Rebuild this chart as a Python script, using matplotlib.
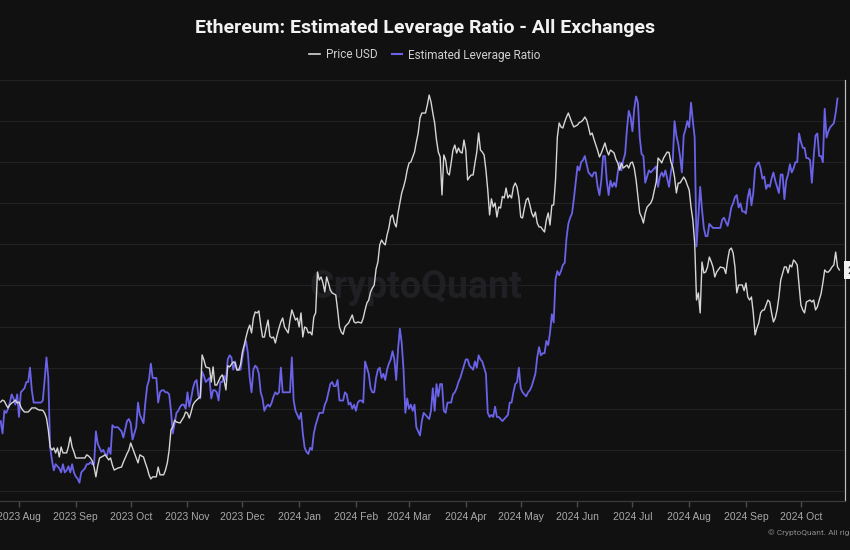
import numpy as np
import pandas as pd
import matplotlib
matplotlib.use('Agg')
import matplotlib.pyplot as plt
import matplotlib.dates as mdates
import matplotlib.transforms as mtransforms
from matplotlib.lines import Line2D

# daily series, first value is 2023-07-22
first_day = '2023-07-22'

price_usd = [
    1880, 1889, 1884, 1866, 1852, 1866, 1875, 1880, 1889, 1875,
    1880, 1856, 1842, 1833, 1833, 1833, 1842, 1852, 1852, 1852,
    1846, 1842, 1842, 1840, 1828, 1805, 1752, 1678, 1665, 1674,
    1653, 1674, 1636, 1678, 1653, 1653, 1653, 1680, 1721, 1678,
    1657, 1632, 1632, 1632, 1632, 1632, 1632, 1645, 1640, 1632,
    1620, 1595, 1556, 1600, 1632, 1636, 1640, 1645, 1635, 1624,
    1632, 1603, 1583, 1587, 1591, 1593, 1595, 1615, 1632, 1650,
    1665, 1695, 1674, 1653, 1632, 1612, 1645, 1640, 1636, 1612,
    1591, 1564, 1548, 1556, 1556, 1556, 1595, 1564, 1564, 1564,
    1583, 1612, 1665, 1752, 1765, 1796, 1787, 1785, 1783, 1797,
    1810, 1833, 1828, 1805, 1833, 1866, 1880, 1889, 1897, 1904,
    2117, 2090, 2054, 2050, 2048, 1977, 2054, 1962, 1962, 1982,
    2002, 2013, 1987, 1938, 2060, 2054, 2067, 2080, 2075, 2038,
    2038, 2067, 2133, 2171, 2215, 2255, 2283, 2238, 2324, 2360,
    2354, 2366, 2283, 2215, 2215, 2266, 2312, 2220, 2210, 2215,
    2182, 2227, 2266, 2301, 2324, 2272, 2255, 2238, 2312, 2372,
    2342, 2312, 2324, 2272, 2354, 2215, 2272, 2266, 2238, 2243,
    2227, 2330, 2354, 2610, 2558, 2578, 2539, 2482, 2578, 2539,
    2494, 2476, 2470, 2463, 2372, 2272, 2243, 2230, 2272, 2285,
    2295, 2318, 2342, 2301, 2295, 2301, 2298, 2295, 2324, 2372,
    2414, 2432, 2482, 2507, 2526, 2630, 2677, 2795, 2830, 2809,
    2795, 2866, 2917, 2999, 3015, 2954, 2925, 3030, 3107, 3187,
    3235, 3293, 3377, 3438, 3446, 3490, 3534, 3625, 3708, 3851,
    3900, 3900, 3900, 3980, 4081, 4010, 3900, 3803, 3643, 3534,
    3490, 3171, 3508, 3463, 3352, 3335, 3438, 3552, 3597, 3525,
    3570, 3534, 3525, 3643, 3552, 3293, 3318, 3335, 3335, 3438,
    3534, 3708, 3552, 3534, 3508, 3377, 3211, 3015, 3140, 3076,
    3107, 2999, 3076, 3068, 3160, 3147, 3227, 3147, 3171, 3147,
    3235, 3268, 3235, 3147, 2999, 2992, 3068, 3131, 3147, 3092,
    3030, 2999, 3037, 2954, 2925, 2925, 2905, 2888, 2977, 3030,
    2939, 3090, 3092, 3293, 3671, 3803, 3765, 3755, 3812, 3861,
    3900, 3851, 3803, 3765, 3775, 3784, 3808, 3815, 3832, 3861,
    3832, 3765, 3690, 3708, 3650, 3597, 3548, 3490, 3525, 3570,
    3616, 3552, 3508, 3552, 3540, 3525, 3470, 3438, 3377, 3438,
    3394, 3407, 3420, 3394, 3438, 3446, 3394, 3293, 3155, 3030,
    2999, 2954, 3030, 3076, 3092, 3107, 3140, 3211, 3276, 3481,
    3463, 3438, 3481, 3508, 3534, 3530, 3446, 3403, 3318, 3187,
    3268, 3268, 3293, 3318, 3293, 3250, 3211, 3076, 2977, 2809,
    2432, 2476, 2354, 2677, 2604, 2610, 2644, 2711, 2680, 2644,
    2578, 2610, 2627, 2644, 2640, 2637, 2600, 2691, 2760, 2773,
    2739, 2644, 2476, 2526, 2526, 2526, 2490, 2539, 2451, 2432,
    2451, 2354, 2227, 2266, 2295, 2354, 2370, 2372, 2402, 2432,
    2420, 2354, 2301, 2324, 2372, 2451, 2558, 2600, 2644, 2644,
    2604, 2657, 2644, 2691, 2677, 2657, 2530, 2402, 2372, 2354,
    2420, 2426, 2432, 2420, 2432, 2372, 2390, 2432, 2470, 2539,
    2624, 2610, 2610, 2624, 2644, 2657, 2745, 2644, 2624,
]

leverage_ratio = [
    0.274, 0.268, 0.279, 0.278, 0.280, 0.283, 0.287, 0.285, 0.282, 0.287,
    0.276, 0.288, 0.289, 0.290, 0.293, 0.293, 0.300, 0.289, 0.283, 0.283,
    0.283, 0.283, 0.283, 0.284, 0.294, 0.305, 0.295, 0.261, 0.255, 0.250,
    0.253, 0.252, 0.251, 0.249, 0.253, 0.249, 0.250, 0.252, 0.249, 0.253,
    0.249, 0.247, 0.246, 0.244, 0.249, 0.250, 0.251, 0.253, 0.253, 0.254,
    0.253, 0.253, 0.269, 0.263, 0.261, 0.259, 0.260, 0.258, 0.257, 0.261,
    0.258, 0.272, 0.271, 0.271, 0.271, 0.270, 0.269, 0.266, 0.270, 0.274,
    0.275, 0.273, 0.265, 0.268, 0.271, 0.283, 0.277, 0.275, 0.273, 0.283,
    0.291, 0.294, 0.302, 0.295, 0.295, 0.295, 0.283, 0.288, 0.289, 0.289,
    0.288, 0.288, 0.287, 0.279, 0.268, 0.273, 0.278, 0.279, 0.281, 0.282,
    0.282, 0.280, 0.288, 0.281, 0.285, 0.290, 0.293, 0.294, 0.286, 0.285,
    0.298, 0.296, 0.293, 0.294, 0.295, 0.285, 0.289, 0.289, 0.288, 0.284,
    0.293, 0.293, 0.296, 0.294, 0.304, 0.306, 0.305, 0.299, 0.303, 0.299,
    0.299, 0.299, 0.305, 0.310, 0.313, 0.307, 0.295, 0.288, 0.299, 0.301,
    0.300, 0.297, 0.288, 0.285, 0.279, 0.281, 0.282, 0.281, 0.283, 0.286,
    0.288, 0.287, 0.288, 0.300, 0.288, 0.288, 0.288, 0.288, 0.288, 0.305,
    0.284, 0.279, 0.277, 0.275, 0.278, 0.268, 0.261, 0.259, 0.258, 0.261,
    0.260, 0.268, 0.272, 0.275, 0.278, 0.278, 0.278, 0.282, 0.284, 0.288,
    0.292, 0.293, 0.291, 0.291, 0.294, 0.284, 0.284, 0.284, 0.288, 0.287,
    0.282, 0.283, 0.280, 0.282, 0.279, 0.283, 0.284, 0.284, 0.283, 0.303,
    0.300, 0.297, 0.290, 0.288, 0.288, 0.295, 0.299, 0.300, 0.295, 0.297,
    0.294, 0.299, 0.302, 0.304, 0.308, 0.304, 0.294, 0.309, 0.319, 0.312,
    0.299, 0.278, 0.285, 0.280, 0.282, 0.279, 0.282, 0.271, 0.269, 0.267,
    0.274, 0.278, 0.277, 0.276, 0.275, 0.279, 0.290, 0.279, 0.292, 0.286,
    0.292, 0.292, 0.279, 0.278, 0.283, 0.283, 0.283, 0.287, 0.288, 0.290,
    0.293, 0.295, 0.298, 0.301, 0.304, 0.304, 0.301, 0.300, 0.299, 0.303,
    0.300, 0.306, 0.304, 0.303, 0.300, 0.297, 0.278, 0.276, 0.277, 0.276,
    0.281, 0.276, 0.276, 0.275, 0.274, 0.275, 0.276, 0.277, 0.283, 0.283,
    0.288, 0.292, 0.293, 0.300, 0.290, 0.288, 0.287, 0.286, 0.288, 0.289,
    0.291, 0.294, 0.297, 0.305, 0.310, 0.306, 0.307, 0.307, 0.313, 0.311,
    0.317, 0.326, 0.322, 0.343, 0.347, 0.345, 0.347, 0.350, 0.351, 0.363,
    0.370, 0.373, 0.375, 0.382, 0.390, 0.398, 0.396, 0.400, 0.401, 0.403,
    0.399, 0.395, 0.394, 0.393, 0.395, 0.395, 0.388, 0.384, 0.391, 0.403,
    0.403, 0.391, 0.384, 0.391, 0.388, 0.390, 0.388, 0.395, 0.400, 0.396,
    0.401, 0.404, 0.416, 0.425, 0.422, 0.415, 0.426, 0.432, 0.429, 0.412,
    0.404, 0.403, 0.390, 0.393, 0.396, 0.395, 0.396, 0.397, 0.398, 0.388,
    0.393, 0.395, 0.393, 0.396, 0.392, 0.388, 0.395, 0.400, 0.420, 0.413,
    0.409, 0.403, 0.395, 0.413, 0.416, 0.420, 0.417, 0.429, 0.420, 0.412,
    0.359, 0.373, 0.388, 0.377, 0.368, 0.364, 0.364, 0.370, 0.369, 0.368,
    0.368, 0.368, 0.368, 0.368, 0.372, 0.373, 0.371, 0.369, 0.373, 0.378,
    0.380, 0.383, 0.384, 0.378, 0.380, 0.376, 0.376, 0.375, 0.383, 0.387,
    0.379, 0.385, 0.397, 0.399, 0.400, 0.397, 0.392, 0.393, 0.387, 0.389,
    0.388, 0.392, 0.395, 0.391, 0.388, 0.385, 0.394, 0.394, 0.382, 0.391,
    0.394, 0.399, 0.395, 0.397, 0.400, 0.400, 0.414, 0.410, 0.407, 0.407,
    0.402, 0.402, 0.401, 0.390, 0.403, 0.413, 0.414, 0.403, 0.403, 0.400,
    0.426, 0.412, 0.415, 0.417, 0.418, 0.419, 0.424, 0.431,
]

title = 'Ethereum: Estimated Leverage Ratio - All Exchanges'
series_names = ['Price USD', 'Estimated Leverage Ratio']

BG = '#111111'
PRICE_COLOR = '#d6d6d6'
LEV_COLOR = '#6a62e8'

plt.rcParams['font.family'] = ['Roboto', 'DejaVu Sans']


def make_chart():
    price_dates = pd.date_range(first_day, periods=len(price_usd), freq='D')
    lev_dates = pd.date_range(first_day, periods=len(leverage_ratio), freq='D')

    fig = plt.figure(figsize=(8.5, 5.5), dpi=100, facecolor=BG)
    ax = fig.add_axes([0.0, 0.0891, 0.9941, 0.7654], facecolor=BG)
    ax2 = ax.twinx()

    # leverage on the (hidden) left scale, it also owns the grid
    ax.plot(lev_dates, leverage_ratio, color=LEV_COLOR, linewidth=1.3, zorder=2)
    ax.set_ylim(0.2351, 0.44)
    ax.set_yticks(np.arange(0.24, 0.4401, 0.02))
    ax.yaxis.grid(True, color='#222222', linewidth=0.8)
    ax.set_axisbelow(True)
    ax.tick_params(axis='y', length=0, labelleft=False)

    # price on a log scale, no labels shown
    ax2.plot(price_dates, price_usd, color=PRICE_COLOR, linewidth=1.0, zorder=3)
    ax2.set_yscale('log')
    ax2.set_ylim(1464, 4239)
    ax2.yaxis.set_visible(False)

    ax.set_xlim(pd.Timestamp('2023-07-21 15:00'), pd.Timestamp('2024-10-25 02:00'))
    ax.xaxis.set_major_locator(mdates.MonthLocator())
    ax.xaxis.set_major_formatter(mdates.DateFormatter('%Y %b'))
    ax.tick_params(axis='x', colors='#4a4a4a', labelcolor='#a8a8a8', length=4,
                   width=1, labelsize=7.5, pad=4)
    for label in ax.get_xticklabels():
        label.set_family(['Liberation Sans', 'DejaVu Sans'])

    for a in (ax, ax2):
        for side in ('top', 'left'):
            a.spines[side].set_visible(False)
        a.spines['bottom'].set_color('#3c3c3c')
        a.spines['right'].set_color('#bdbdbd')

    # last value tag on the right edge (cut off like the original)
    trans = mtransforms.blended_transform_factory(ax2.transAxes, ax2.transData)
    ax2.text(1.003, price_usd[-1], '2,624', transform=trans, color='#111111', fontsize=8,
             va='center', ha='left', clip_on=False,
             bbox=dict(boxstyle='square,pad=0.35', fc='#f2f2f2', ec='none'))

    # watermark
    ax.text(0.492, 0.508, 'CryptoQuant', transform=ax.transAxes, color='#202024',
            fontsize=27, fontweight='bold', ha='center', va='center', zorder=1)

    fig.text(0.5, 0.949, title, color='#f2f2f2', fontsize=14, fontweight='bold',
             ha='center', va='center')
    handles = [Line2D([], [], color=PRICE_COLOR, lw=1.2),
               Line2D([], [], color=LEV_COLOR, lw=1.5)]
    fig.legend(handles, series_names, loc='center', bbox_to_anchor=(0.5, 0.9), ncol=2,
               frameon=False, fontsize=8.5, labelcolor='#cfcfcf', handlelength=0.9,
               handletextpad=0.5, columnspacing=1.2)

    fig.text(0.903, 0.031, '\u00a9 CryptoQuant. All rights reserved.', color='#8a8a8a',
             fontsize=6, ha='left', va='center')

    fig.savefig('out.png', dpi=100, facecolor=BG)


make_chart()
